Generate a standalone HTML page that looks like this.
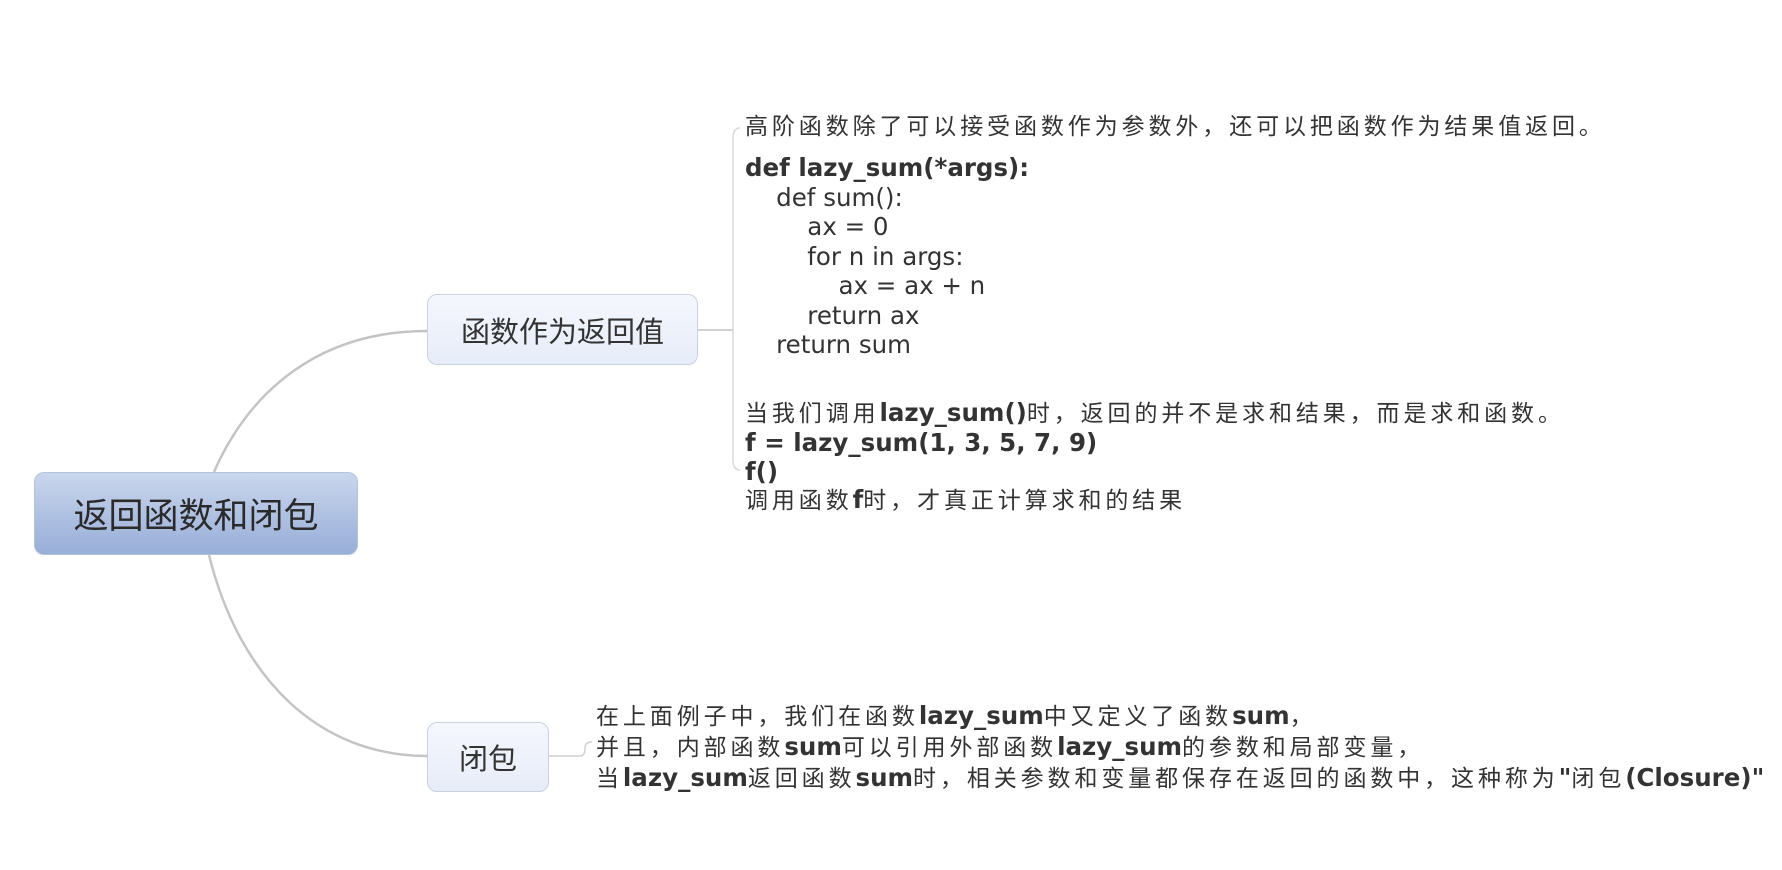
<!DOCTYPE html>
<html><head><meta charset="utf-8"><style>
body{margin:0;width:1782px;height:870px;background:#fff;position:relative;overflow:hidden;font-family:"DejaVu Sans","Noto Sans CJK SC",sans-serif;color:#333}
.box{position:absolute;box-sizing:border-box;display:flex;align-items:center;justify-content:center;border-radius:10px}
.n{background:linear-gradient(#f5f7fd,#e6ecf8);border:1px solid #c9d1de;font-size:29px;color:#333}
.root{background:linear-gradient(#c9d6ec,#98aed8);border:1px solid #b4c3dd;font-size:35px;color:#2a2a2a}
.t{position:absolute;font-size:24.5px;line-height:29.5px;white-space:pre;color:#333}
.c{font-size:23px;letter-spacing:3.9px}
</style></head><body>
<svg width="1782" height="870" style="position:absolute;left:0;top:0">
<path d="M214 472 C250 390 320 331 427 331" fill="none" stroke="#c4c4c4" stroke-width="2.5"/>
<path d="M209 555 C240 680 320 756 427 756" fill="none" stroke="#c4c4c4" stroke-width="2.5"/>
<path d="M698 330 L733 330" stroke="#d0d0d0" stroke-width="2" fill="none"/>
<path d="M740 128 Q733 128 733 138 L733 460 Q733 470 740 470" stroke="#d8d8d8" stroke-width="1.5" fill="none"/>
<path d="M549 756 L580 756 Q585 756 585 748 Q585 742 592 742" stroke="#d0d0d0" stroke-width="1.5" fill="none"/>
</svg>
<div class="box root" style="left:34px;top:472px;width:324px;height:83px">返回函数和闭包</div>
<div class="box n" style="left:427px;top:294px;width:271px;height:71px">函数作为返回值</div>
<div class="box n" style="left:427px;top:722px;width:122px;height:70px">闭包</div>
<div class="t" style="left:745px;top:111px"><span class="c">高阶函数除了可以接受函数作为参数外，还可以把函数作为结果值返回。</span></div>
<div class="t" style="left:745px;top:153px"><b>def lazy_sum(*args):</b>
    def sum():
        ax = 0
        for n in args:
            ax = ax + n
        return ax
    return sum</div>
<div class="t" style="left:745px;top:399px;line-height:28.8px"><span class="c">当我们调用</span><b>lazy_sum()</b><span class="c">时，返回的并不是求和结果，而是求和函数。</span>
<b>f = lazy_sum(1, 3, 5, 7, 9)</b>
<b>f()</b>
<span class="c">调用函数</span><b>f</b><span class="c">时，才真正计算求和的结果</span></div>
<div class="t" style="left:596px;top:701px;line-height:29px"><span class="c">在上面例子中，我们在函数</span><b>lazy_sum</b><span class="c">中又定义了函数</span><b>sum</b><span class="c">，</span>
<span class="c">并且，内部函数</span><b>sum</b><span class="c">可以引用外部函数</span><b>lazy_sum</b><span class="c">的参数和局部变量，</span>
<span class="c">当</span><b>lazy_sum</b><span class="c">返回函数</span><b>sum</b><span class="c">时，相关参数和变量都保存在返回的函数中，这种称为</span><b>"</b><span class="c">闭包</span><b>(Closure)"</b></div>
</body></html>
